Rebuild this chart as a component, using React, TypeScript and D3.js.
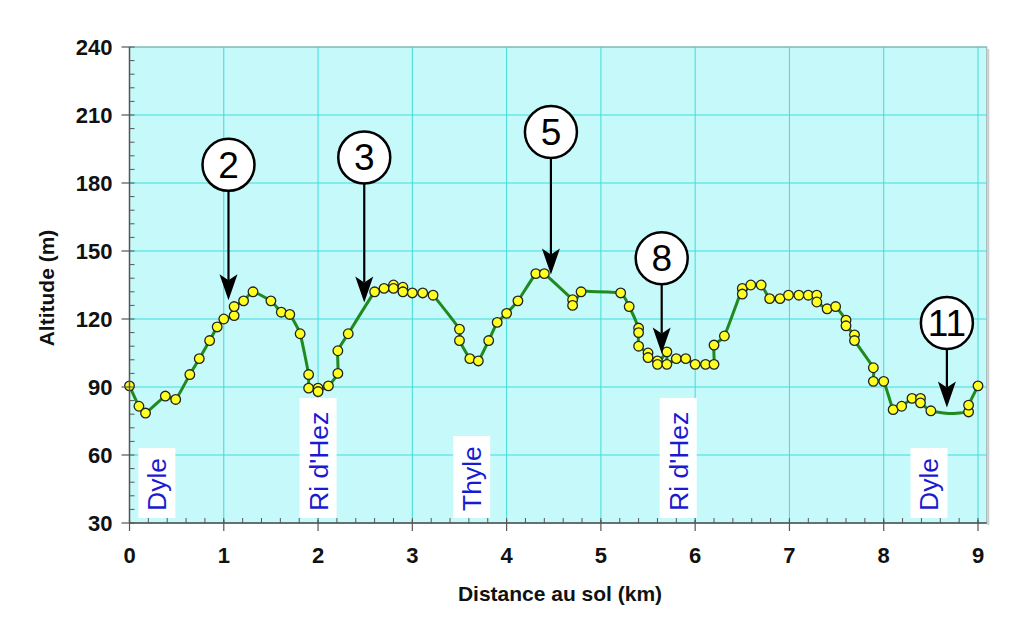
import React from "react";
import * as d3 from "d3";

const distances = [
  0.0, 0.1, 0.17, 0.38, 0.49, 0.64, 0.74, 0.85, 0.93, 1.0, 1.11, 1.11, 1.21, 1.31, 1.5, 1.61, 1.7, 1.81,
  1.9, 1.9, 2.0, 2.0, 2.11, 2.21, 2.21, 2.32, 2.6, 2.7, 2.8, 2.8, 2.9, 2.9, 3.0, 3.11, 3.22, 3.5, 3.5,
  3.61, 3.7, 3.81, 3.9, 4.0, 4.12, 4.31, 4.4, 4.7, 4.7, 4.79, 4.86, 5.21, 5.3, 5.4, 5.4, 5.4, 5.5, 5.5, 5.6,
  5.6, 5.7, 5.7, 5.8, 5.9, 6.0, 6.11, 6.2, 6.2, 6.31, 6.5, 6.5, 6.59, 6.7, 6.79, 6.9, 6.99, 7.1, 7.2,
  7.29, 7.29, 7.4, 7.49, 7.6, 7.6, 7.69, 7.69, 7.89, 7.89, 8.0, 8.1, 8.19, 8.3, 8.39, 8.39, 8.5, 8.7, 8.9,
  8.9, 9.0,
];
const altitudes = [
  90.5, 81.5, 78.5, 86, 84.5, 95.5, 102.5, 110.5, 116.5, 120, 121.5, 125.5, 128, 132, 128, 123, 122, 113.5,
  95.5, 89.5, 89.5, 88, 90.5, 96, 106, 113.5, 132, 133.5, 135, 133.5, 134, 132, 131.5, 131.5, 130.5, 115.5, 110.5,
  102.5, 101.5, 110.5, 118.5, 122.5, 128, 140, 140, 128.5, 126, 132, 132.2, 131.5, 125.5, 116, 114, 108, 105, 103, 101.5,
  100, 105.5, 100, 102.5, 102.5, 100, 100, 100, 108.5, 112.5, 133.5, 131, 135, 135, 129, 129, 130.5, 130.5, 130.5,
  130.5, 127.5, 124.5, 125.5, 119.5, 117, 113, 110.5, 98.5, 92.5, 92.5, 80, 81.5, 85, 85, 83, 79.5, 78.3, 79,
  82, 90.5,
];
// vertices of the line that carry no marker (4.86 km and 8.7 km)
const hiddenKm = [4.86, 8.7];

const yTicks = [30, 60, 90, 120, 150, 180, 210, 240];
const xTicks = [0, 1, 2, 3, 4, 5, 6, 7, 8, 9];

const riverNames = ["Dyle", "Ri d'Hez", "Thyle", "Ri d'Hez", "Dyle"];
const riverKm = [0.29, 2.0, 3.63, 5.82, 8.48];

const calloutLabels = ["2", "3", "5", "8", "11"];
const calloutKm = [1.05, 2.49, 4.47, 5.645, 8.67];
const calloutCircleAlt = [188, 191.3, 202.5, 146.8, 118.2];
const calloutTipAlt = [128.3, 127.3, 139.6, 104.8, 81];

export default function App() {
  const W = 1024;
  const H = 642;
  const x = d3.scaleLinear().domain([0, 9]).range([129.5, 978]);
  const y = d3.scaleLinear().domain([30, 240]).range([523, 47]);
  const plotLeft = x(0);
  const plotRight = x(9.093);
  const plotTop = y(240);
  const plotBottom = y(30);

  const pts: [number, number][] = distances.map((d, i) => [d, altitudes[i]]);
  const line = d3
    .line<[number, number]>()
    .x((d) => x(d[0]))
    .y((d) => y(d[1]))
    .curve(d3.curveCardinal.tension(0.55));

  const minorY = d3.range(30, 240.01, 6);
  const minorX = d3.range(0, 9.05, 0.2);

  const font = "'Liberation Sans', Arial, Helvetica, sans-serif";
  const axisColor = "#555";

  return (
    <svg
      width={W}
      height={H}
      style={{ position: "absolute", left: 0, top: 0, background: "#fff" }}
      fontFamily={font}
    >
      <rect x={0} y={0} width={W} height={H} fill="#fff" />
      <rect
        x={plotLeft}
        y={plotTop}
        width={plotRight - plotLeft}
        height={plotBottom - plotTop}
        fill="#c6f9f9"
      />
      {yTicks.map((t) => (
        <line key={"gy" + t} x1={plotLeft} x2={plotRight} y1={y(t)} y2={y(t)} stroke="#3fdcdc" strokeWidth={1} />
      ))}
      {xTicks.map((t) => (
        <line key={"gx" + t} x1={x(t)} x2={x(t)} y1={plotTop} y2={plotBottom} stroke="#3fdcdc" strokeWidth={1} />
      ))}
      <rect
        x={plotLeft}
        y={plotTop}
        width={plotRight - plotLeft}
        height={plotBottom - plotTop}
        fill="none"
        stroke="#9aa"
        strokeWidth={1}
      />
      <line x1={plotRight + 1.5} x2={plotRight + 1.5} y1={plotTop + 2} y2={plotBottom + 2} stroke="#ccc" strokeWidth={2} />

      {riverNames.map((name, i) => {
        const cx = x(riverKm[i]);
        const len = name.length > 5 ? 120 : name === "Thyle" ? 82 : 70;
        return (
          <g key={"r" + i}>
            <rect x={cx - 18.5} y={plotBottom - 5 - len} width={37} height={len} fill="#fff" />
            <text
              transform={`translate(${cx + 9.5},${plotBottom - 12}) rotate(-90)`}
              fontSize={26.5}
              fill="#1a1ad2"
              textAnchor="start"
            >
              {name}
            </text>
          </g>
        );
      })}

      <path d={line(pts) || ""} fill="none" stroke="#1f8a1f" strokeWidth={3} />
      {pts.map((p, i) =>
        hiddenKm.includes(p[0]) ? null : (
          <circle key={"p" + i} cx={x(p[0])} cy={y(p[1])} r={4.8} fill="#ffff22" stroke="#222" strokeWidth={1.3} />
        )
      )}

      {calloutLabels.map((lab, i) => {
        const cx = x(calloutKm[i]);
        const cy = y(calloutCircleAlt[i]);
        const tipY = y(calloutTipAlt[i]);
        const r = 26;
        const hl = 26;
        const hw = 9;
        return (
          <g key={"c" + i}>
            <line x1={cx} x2={cx} y1={cy + r} y2={tipY - hl + 6} stroke="#000" strokeWidth={2.2} />
            <path
              d={`M${cx},${tipY} L${cx - hw},${tipY - hl} L${cx},${tipY - hl + 6} L${cx + hw},${tipY - hl} Z`}
              fill="#000"
            />
            <circle cx={cx} cy={cy} r={r} fill="#fff" stroke="#000" strokeWidth={2.5} />
            <text x={cx} y={cy + 13} textAnchor="middle" fontSize={37} fill="#000">
              {lab}
            </text>
          </g>
        );
      })}

      <line x1={plotLeft} x2={plotLeft} y1={plotTop} y2={plotBottom} stroke={axisColor} strokeWidth={1.5} />
      <line x1={plotLeft} x2={plotRight} y1={plotBottom} y2={plotBottom} stroke={axisColor} strokeWidth={1.5} />
      {minorY.map((t) => (
        <line key={"my" + t} x1={plotLeft} x2={plotLeft + 5} y1={y(t)} y2={y(t)} stroke={axisColor} strokeWidth={1} />
      ))}
      {yTicks.map((t) => (
        <g key={"ty" + t}>
          <line x1={plotLeft - 8} x2={plotLeft} y1={y(t)} y2={y(t)} stroke={axisColor} strokeWidth={1.2} />
          <text x={plotLeft - 17} y={y(t) + 8} textAnchor="end" fontSize={22} fontWeight="bold" fill="#111">
            {t}
          </text>
        </g>
      ))}
      {minorX.map((t, i) => (
        <line key={"mx" + i} x1={x(t)} x2={x(t)} y1={plotBottom - 5} y2={plotBottom} stroke={axisColor} strokeWidth={1} />
      ))}
      {xTicks.map((t) => (
        <g key={"tx" + t}>
          <line x1={x(t)} x2={x(t)} y1={plotBottom - 3} y2={plotBottom + 8} stroke={axisColor} strokeWidth={1.2} />
          <text x={x(t)} y={plotBottom + 40} textAnchor="middle" fontSize={22} fontWeight="bold" fill="#111">
            {t}
          </text>
        </g>
      ))}

      <text x={560} y={601} textAnchor="middle" fontSize={21} fontWeight="bold" fill="#111">
        Distance au sol (km)
      </text>
      <text
        transform={`translate(54,288) rotate(-90)`}
        textAnchor="middle"
        fontSize={21}
        fontWeight="bold"
        fill="#111"
      >
        Altitude (m)
      </text>
    </svg>
  );
}
